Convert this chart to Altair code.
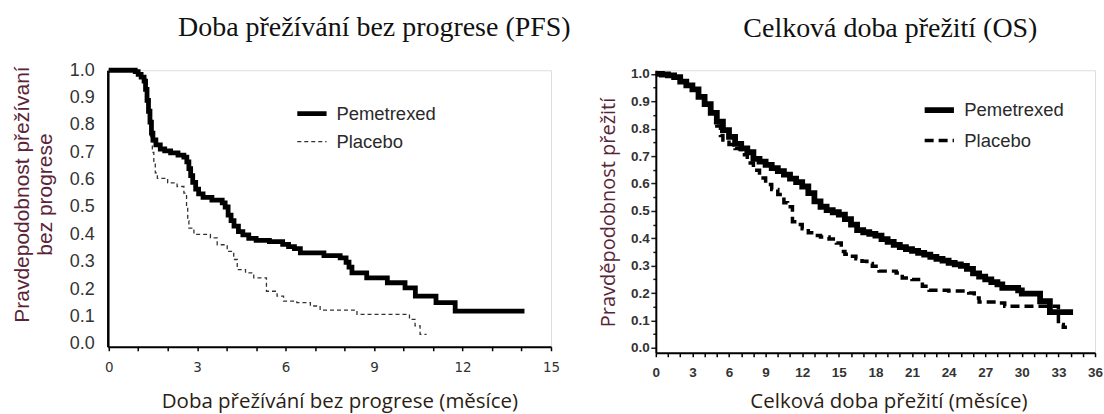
import altair as alt
import pandas as pd

series_names = ["Pemetrexed", "Placebo"]

# PFS (months, survival probability)
pfs_pem_t = [0, 0.9, 1.0, 1.1, 1.2, 1.25, 1.3, 1.35, 1.4, 1.45, 1.5, 1.6, 1.75, 1.9, 2.1, 2.35, 2.55,
             2.65, 2.72, 2.78, 2.85, 2.95, 3.05, 3.2, 3.5, 3.85, 3.95, 4.05, 4.15, 4.25, 4.4, 4.55,
             4.75, 5.0, 5.45, 5.9, 6.1, 6.3, 6.5, 7.3, 7.85, 8.05, 8.15, 8.25, 8.75, 9.45, 10.05,
             10.4, 11.1, 11.75, 14.1]
pfs_pem_s = [1.0, 0.995, 0.985, 0.975, 0.96, 0.93, 0.89, 0.85, 0.81, 0.77, 0.745, 0.727, 0.712,
             0.705, 0.698, 0.69, 0.682, 0.665, 0.64, 0.615, 0.59, 0.565, 0.548, 0.535, 0.525, 0.515,
             0.5, 0.47, 0.45, 0.43, 0.41, 0.398, 0.385, 0.378, 0.373, 0.363, 0.355, 0.348, 0.332,
             0.322, 0.314, 0.298, 0.28, 0.259, 0.241, 0.223, 0.204, 0.174, 0.15, 0.119, 0.119]
pfs_pla_t = [0, 0.9, 1.1, 1.3, 1.38, 1.42, 1.48, 1.53, 1.58, 1.65, 2.0, 2.32, 2.55, 2.64, 2.68,
             2.72, 2.89, 3.45, 3.68, 4.02, 4.24, 4.36, 4.64, 4.92, 5.35, 5.71, 5.93, 6.38, 6.84,
             7.17, 8.42, 10.2, 10.39, 10.56, 10.78]
pfs_pla_s = [1.0, 0.99, 0.97, 0.9, 0.82, 0.75, 0.7, 0.66, 0.625, 0.605, 0.588, 0.575, 0.551, 0.5,
             0.45, 0.423, 0.40, 0.387, 0.362, 0.338, 0.308, 0.271, 0.259, 0.241, 0.192, 0.174,
             0.156, 0.15, 0.138, 0.123, 0.107, 0.089, 0.065, 0.034, 0.034]

# OS
os_pem_t = [0, 0.5, 1.0, 1.5, 2.0, 2.5, 3.0, 3.5, 4.0, 4.5, 5.0, 5.5, 6.0, 6.5, 7.0, 7.5, 8.0, 8.5,
            9.0, 9.5, 10.0, 10.5, 11.0, 11.5, 12.0, 12.5, 13.0, 13.5, 14.0, 14.5, 15.0, 15.5, 16.0,
            16.5, 17.0, 17.5, 18.0, 18.5, 19.0, 19.5, 20.0, 20.5, 21.0, 21.5, 22.0, 22.5, 23.0,
            23.5, 24.0, 24.5, 25.0, 25.5, 26.0, 26.5, 27.0, 27.5, 28.0, 28.4, 29.7, 30.0, 31.5,
            32.3, 34.2]
os_pem_s = [1.0, 0.998, 0.995, 0.988, 0.972, 0.958, 0.944, 0.916, 0.89, 0.858, 0.826, 0.795, 0.77,
            0.745, 0.728, 0.714, 0.69, 0.68, 0.668, 0.656, 0.645, 0.632, 0.618, 0.605, 0.589, 0.565,
            0.535, 0.515, 0.503, 0.495, 0.486, 0.47, 0.45, 0.43, 0.422, 0.416, 0.41, 0.397, 0.387,
            0.376, 0.368, 0.36, 0.354, 0.347, 0.34, 0.332, 0.325, 0.318, 0.31, 0.305, 0.299, 0.288,
            0.272, 0.26, 0.25, 0.24, 0.232, 0.219, 0.21, 0.198, 0.17, 0.13, 0.13]
os_pla_t = [0, 0.5, 1.0, 1.5, 2.0, 2.5, 3.0, 3.5, 4.0, 4.5, 5.0, 5.3, 5.5, 6.0, 6.5, 7.0, 7.5, 8.0,
            8.5, 9.0, 9.5, 10.0, 10.5, 10.8, 11.2, 11.6, 12.0, 12.5, 13.0, 13.5, 14.2, 14.8, 15.2,
            15.5, 15.85, 16.4, 16.9, 17.3, 17.75, 18.3, 19.7, 20.2, 21.0, 21.85, 22.4, 24.0,
            25.65, 26.1, 26.5, 28.1, 28.6, 33.0, 33.4, 33.7]
os_pla_s = [1.0, 0.998, 0.995, 0.988, 0.972, 0.958, 0.944, 0.916, 0.89, 0.858, 0.81, 0.775, 0.759,
            0.742, 0.728, 0.705, 0.675, 0.648, 0.62, 0.596, 0.578, 0.56, 0.53, 0.515, 0.46, 0.45,
            0.435, 0.42, 0.41, 0.405, 0.397, 0.383, 0.352, 0.342, 0.334, 0.325, 0.316, 0.308,
            0.298, 0.28, 0.273, 0.255, 0.249, 0.225, 0.21, 0.207, 0.2, 0.182, 0.167, 0.164,
            0.152, 0.085, 0.075, 0.075]

pfs_x_ticks = list(range(0, 16))
os_x_ticks = list(range(0, 37))
y_ticks = [round(i * 0.1, 1) for i in range(11)]
y_ticks_minor = [round(i * 0.05, 2) for i in range(21)]


def km_frame(pem_t, pem_s, pla_t, pla_s):
    rows = []
    for name, ts, ss in [("Placebo", pla_t, pla_s), ("Pemetrexed", pem_t, pem_s)]:
        for i, (t, s) in enumerate(zip(ts, ss)):
            rows.append({"t": t, "s": s, "series": name, "i": i})
    return pd.DataFrame(rows)


pfs_df = km_frame(pfs_pem_t, pfs_pem_s, pfs_pla_t, pfs_pla_s)
os_df = km_frame(os_pem_t, os_pem_s, os_pla_t, os_pla_s)

x_title_font = "Open Sans"


def legend(x, y, size):
    return alt.Legend(title=None, orient="none", legendX=x, legendY=y, symbolType="stroke",
                      symbolSize=size, labelFont="Liberation Sans", labelFontSize=18.5,
                      labelColor="#2a2a2a", labelOffset=7, rowPadding=2, padding=0)


left_leg = legend(187, 26, 860)
left = alt.Chart(pfs_df).mark_line(interpolate="step-after", strokeCap="butt").encode(
    x=alt.X("t:Q", scale=alt.Scale(domain=[-0.03, 15], nice=False, zero=False),
            axis=alt.Axis(values=pfs_x_ticks, format="d",
                          labelExpr="datum.value % 3 == 0 ? datum.label : ''",
                          grid=False, domainColor="black", domainWidth=2, tickColor="black",
                          tickSize=4, tickWidth=1.5, labelFont="DejaVu Sans", labelFontSize=13.5,
                          labelColor="#333333", labelPadding=10, labelFlush=False,
                          labelOverlap=False,
                          title="Doba přežívání bez progrese (měsíce)", titleFont=x_title_font,
                          titleFontSize=20.5, titleFontWeight="normal", titleColor="#2b1d14",
                          titleX=232, titleY=61, titleBaseline="alphabetic", titleAlign="center")),
    y=alt.Y("s:Q", scale=alt.Scale(domain=[-0.011, 1.0], nice=False, zero=False),
            axis=alt.Axis(values=y_ticks, format=".1f", ticks=False, grid=False,
                          domainColor="black", domainWidth=2.5, labelPadding=13.5,
                          labelFont="Liberation Sans", labelFontSize=18, labelColor="#333333",
                          title=["Pravdepodobnost přežívaní", "bez progrese"],
                          titleFont="Liberation Sans", titleFontSize=21, titleFontWeight="normal",
                          titleColor="#5a2438", titleAngle=270, titleBaseline="top",
                          titleAlign="center", titleX=-96, titleY=124, titleLineHeight=23)),
    color=alt.Color("series:N", scale=alt.Scale(domain=series_names, range=["#000000", "#333333"]),
                    legend=left_leg),
    strokeDash=alt.StrokeDash("series:N", scale=alt.Scale(domain=series_names, range=[[1, 0], [4, 3]]),
                              legend=left_leg),
    strokeWidth=alt.StrokeWidth("series:N", scale=alt.Scale(domain=series_names, range=[4.8, 1.3]),
                                legend=left_leg),
    order=alt.Order("i:Q"),
).properties(
    width=444, height=277,
    title=alt.TitleParams("Doba přežívání bez progrese (PFS)", font="Liberation Serif", fontSize=28,
                          fontWeight="normal", color="#111111", anchor="middle", frame="group",
                          baseline="alphabetic", offset=-3, dx=45),
)

right_leg = legend(266, 22, 860)
right = alt.Chart(os_df).mark_line(interpolate="step-after", strokeCap="butt").encode(
    x=alt.X("t:Q", scale=alt.Scale(domain=[0, 36], nice=False, zero=False),
            axis=alt.Axis(values=os_x_ticks, format="d",
                          labelExpr="datum.value % 3 == 0 ? datum.label : ''",
                          grid=False, domainColor="black", domainWidth=2, tickColor="black",
                          tickSize=4, tickWidth=1.5,
                          labelFont="Liberation Sans Narrow, Arial Narrow, Liberation Sans",
                          labelFontWeight="bold", labelFontSize=13.5, labelColor="#333333",
                          labelPadding=9, labelFlush=False, labelOverlap=False,
                          title="Celková doba přežití (měsíce)", titleFont=x_title_font,
                          titleFontSize=20.5, titleFontWeight="normal", titleColor="#2b1d14",
                          titleX=233, titleY=55, titleBaseline="alphabetic", titleAlign="center")),
    y=alt.Y("s:Q", scale=alt.Scale(domain=[-0.018, 1.0135], nice=False, zero=False),
            axis=alt.Axis(values=y_ticks_minor,
                          labelExpr="round(datum.value * 100) % 10 == 0 ? format(datum.value, '.1f') : ''",
                          grid=False, domainColor="black", domainWidth=2, tickColor="#222222",
                          tickSize={"condition": {"test": "round(datum.value * 100) % 10 == 0", "value": 5},
                                    "value": 3},
                          tickWidth=1.5, labelPadding=1.5,
                          labelFont="Liberation Sans Narrow, Arial Narrow, Liberation Sans",
                          labelFontWeight="bold", labelFontSize=13.5, labelColor="#333333",
                          labelOverlap=False,
                          title="Pravděpodobnost přežití", titleFont=x_title_font,
                          titleFontSize=20, titleFontWeight="normal", titleColor="#5a2438",
                          titleAngle=270, titleBaseline="middle", titleAlign="center",
                          titleX=-47.5, titleY=142)),
    color=alt.Color("series:N", scale=alt.Scale(domain=series_names, range=["#000000", "#000000"]),
                    legend=right_leg),
    strokeDash=alt.StrokeDash("series:N", scale=alt.Scale(domain=series_names, range=[[1, 0], [9, 5]]),
                              legend=right_leg),
    strokeWidth=alt.StrokeWidth("series:N", scale=alt.Scale(domain=series_names, range=[5.8, 3.5]),
                                legend=right_leg),
    order=alt.Order("i:Q"),
).properties(
    width=440, height=283,
    title=alt.TitleParams("Celková doba přežití (OS)", font="Liberation Serif", fontSize=28,
                          fontWeight="normal", color="#111111", anchor="middle", frame="group",
                          baseline="alphabetic", offset=-3, dx=15),
)

chart = alt.hconcat(
    left, right, spacing=105, bounds="flush",
    padding={"left": 11, "top": 12, "right": 0, "bottom": 0},
).resolve_scale(
    x="independent", y="independent", color="independent",
    strokeDash="independent", strokeWidth="independent",
).resolve_legend(
    color="independent", strokeDash="independent", strokeWidth="independent",
).configure_view(strokeWidth=0).configure(background="white")

chart.save("out.html", embed_options={"renderer": "svg", "actions": False})
